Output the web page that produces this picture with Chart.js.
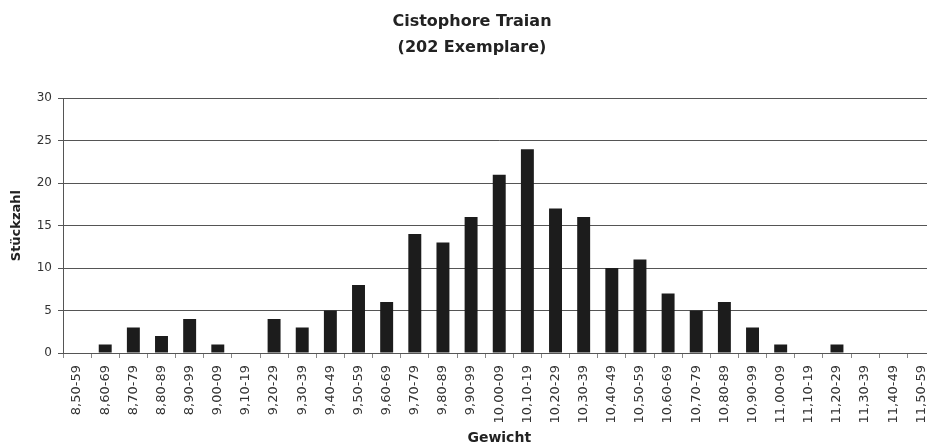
<!DOCTYPE html>
<html>
<head>
<meta charset="utf-8">
<script src="https://cdn.jsdelivr.net/npm/chart.js@4/dist/chart.umd.min.js"></script>
<style>
  html, body { margin: 0; padding: 0; background: #fff; overflow: hidden; }
  #wrap { position: relative; width: 944px; height: 445px; }
</style>
</head>
<body>
<div id="wrap"><canvas id="chart"></canvas></div>
<script>
const titleLines = ['Cistophore Traian', '(202 Exemplare)'];

const weightClasses = [
  '8,50-59', '8,60-69', '8,70-79', '8,80-89', '8,90-99',
  '9,00-09', '9,10-19', '9,20-29', '9,30-39', '9,40-49',
  '9,50-59', '9,60-69', '9,70-79', '9,80-89', '9,90-99',
  '10,00-09', '10,10-19', '10,20-29', '10,30-39', '10,40-49',
  '10,50-59', '10,60-69', '10,70-79', '10,80-89', '10,90-99',
  '11,00-09', '11,10-19', '11,20-29', '11,30-39', '11,40-49',
  '11,50-59'
];

const counts = [
  0, 1, 3, 2, 4,
  1, 0, 4, 3, 5,
  8, 6, 14, 13, 16,
  21, 24, 17, 16, 10,
  11, 7, 5, 6, 3,
  1, 0, 1, 0, 0,
  0
];

const yMin = 0;
const yMax = 30;
const yStep = 5;

const FONT = "'DejaVu Sans', 'Liberation Sans', Arial, sans-serif";

new Chart(document.getElementById('chart'), {
  type: 'bar',
  data: {
    labels: weightClasses,
    datasets: [{
      label: 'Stückzahl',
      data: counts,
      backgroundColor: '#1c1c1c',
      borderWidth: 0,
      barPercentage: 0.46,
      categoryPercentage: 1.0
    }]
  },
  options: {
    responsive: true,
    maintainAspectRatio: false,
    animation: false,
    layout: { padding: 0 },
    plugins: {
      legend: { display: false },
      tooltip: { enabled: false },
      title: {
        display: true,
        text: titleLines,
        color: '#222',
        font: { family: FONT, size: 16, weight: 'bold', lineHeight: 1.6 },
        padding: { top: 9, bottom: 38 }
      }
    },
    scales: {
      x: {
        afterFit(scale) { scale.height = 92; },
        grid: {
          display: true,
          drawOnChartArea: false,
          drawTicks: true,
          tickLength: 5,
          color: '#888'
        },
        border: { display: true, color: '#555', width: 1 },
        ticks: {
          autoSkip: false,
          maxRotation: 90,
          minRotation: 90,
          padding: 7,
          color: '#333',
          font: { family: FONT, size: 13 }
        },
        title: {
          display: true,
          text: 'Gewicht',
          color: '#222',
          font: { family: FONT, size: 14, weight: 'bold', lineHeight: 1 },
          padding: { top: 0, bottom: 0 }
        }
      },
      y: {
        min: yMin,
        max: yMax,
        afterFit(scale) { scale.width = 63; },
        grid: {
          color: '#555',
          lineWidth: 1,
          drawTicks: true,
          tickLength: 5
        },
        border: { display: true, color: '#555', width: 1 },
        ticks: {
          stepSize: yStep,
          padding: 6,
          color: '#333',
          font: { family: FONT, size: 12 }
        },
        title: {
          display: true,
          text: 'Stückzahl',
          color: '#222',
          font: { family: FONT, size: 13, weight: 'bold', lineHeight: 1 },
          padding: { top: 10, bottom: 0 }
        }
      }
    }
  }
});
</script>
</body>
</html>
